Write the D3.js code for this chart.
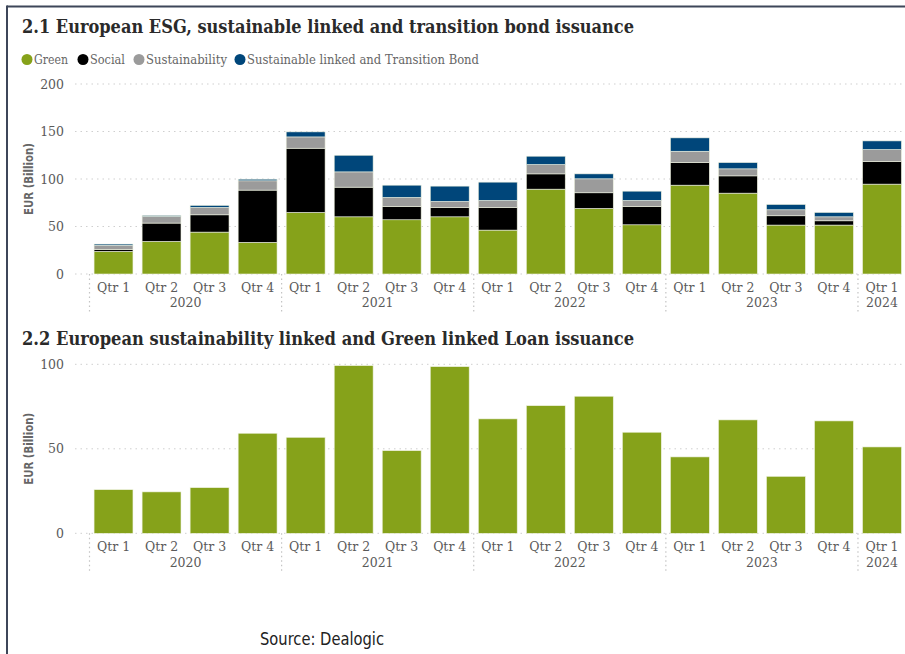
<!DOCTYPE html>
<html>
<head>
<meta charset="utf-8">
<script src="https://cdn.jsdelivr.net/npm/d3@7"></script>
<style>
  html, body { margin: 0; padding: 0; background: #fff; }
  svg { display: block; }
</style>
</head>
<body>
<svg id="chart" width="905" height="654"></svg>
<script>
// Quarterly categories and year groups
const quarters = ["Qtr 1","Qtr 2","Qtr 3","Qtr 4","Qtr 1","Qtr 2","Qtr 3","Qtr 4","Qtr 1","Qtr 2","Qtr 3","Qtr 4","Qtr 1","Qtr 2","Qtr 3","Qtr 4","Qtr 1"];
const years = ["2020","2021","2022","2023","2024"];
const quartersPerYear = [4, 4, 4, 4, 1];

// 2.1 Bond issuance by type (EUR billion)
const seriesNames = ["Green", "Social", "Sustainability", "Sustainable linked and Transition Bond"];
const green          = [23.8, 34.3, 44.1, 33.3, 64.8, 60.2, 57.1, 60.2, 46.2, 89.3, 69.0, 51.8, 93.5, 85.1, 51.5, 51.5, 94.6];
const social         = [2.1, 19.3, 18.2, 55.0, 67.6, 31.2, 14.0, 9.9, 23.9, 16.1, 16.5, 19.3, 23.8, 18.2, 9.8, 4.5, 23.8];
const sustainability = [4.2, 7.0, 7.8, 9.8, 11.9, 16.1, 9.5, 6.3, 7.3, 9.8, 14.7, 6.3, 11.9, 7.4, 6.3, 4.2, 12.6];
const linkedTransition = [1.4, 1.0, 2.1, 1.7, 5.3, 17.5, 12.9, 16.1, 19.3, 8.8, 5.2, 9.8, 14.1, 6.6, 5.6, 4.6, 9.1];
const bondTicks = [0, 50, 100, 150, 200];

// 2.2 Sustainability linked and green linked loan issuance (EUR billion)
const loans = [25.8, 24.5, 27.0, 59.2, 56.8, 99.2, 48.9, 98.6, 67.7, 75.5, 81.1, 59.8, 45.2, 67.1, 33.7, 66.5, 51.1];
const loanTicks = [0, 50, 100];

const colors = ["#86a21a", "#000000", "#9b9b9b", "#00467a"];

const svg = d3.select("#chart");
const serif = "'DejaVu Serif', serif";
const condensed = "'DejaVu Sans Condensed', 'DejaVu Sans', sans-serif";
const tickColor = "#5a5a5a";

// Frame lines
svg.append("line").attr("x1", 7).attr("x2", 905).attr("y1", 6.5).attr("y2", 6.5)
  .attr("stroke", "#3d4659").attr("stroke-width", 2);
svg.append("line").attr("x1", 7).attr("x2", 7).attr("y1", 5.5).attr("y2", 654)
  .attr("stroke", "#3d4659").attr("stroke-width", 2);

const idx = d3.range(quarters.length);
const x = d3.scaleBand().domain(idx).range([89.5, 906]).paddingInner(0.19).paddingOuter(0.095);

function panel(opts) {
  const g = svg.append("g");
  const y = d3.scaleLinear().domain([0, opts.max]).range([opts.y0, opts.y1]);

  // title
  g.append("text").attr("x", 22).attr("y", opts.titleY)
    .attr("font-family", serif).attr("font-weight", "bold").attr("font-size", 18.5)
    .attr("fill", "#2a2a2a").attr("textLength", opts.titleLen).attr("lengthAdjust", "spacingAndGlyphs")
    .text(opts.title);

  // gridlines + y ticks
  const yAxis = d3.axisLeft(y).tickValues(opts.ticks).tickSize(0).tickPadding(0);
  const ya = g.append("g").attr("transform", "translate(64,0)").call(yAxis);
  ya.select(".domain").remove();
  ya.selectAll("text").attr("font-family", serif).attr("font-size", 12.5).attr("fill", tickColor).attr("dx", 0);
  g.append("g").selectAll("line").data(opts.ticks).join("line")
    .attr("x1", 75).attr("x2", 905).attr("y1", d => y(d)).attr("y2", d => y(d))
    .attr("stroke", "#cfcfcf").attr("stroke-width", 1).attr("stroke-dasharray", "1.5,4");

  // y label
  g.append("text").attr("transform", `translate(33,${(opts.y0 + opts.y1) / 2}) rotate(-90)`)
    .attr("text-anchor", "middle").attr("font-family", condensed).attr("font-weight", "bold")
    .attr("font-size", 12.5).attr("fill", "#666")
    .attr("textLength", 72).attr("lengthAdjust", "spacingAndGlyphs").text("EUR (Billion)");

  // bars
  opts.drawBars(g, y);

  // quarter labels
  const xAxis = d3.axisBottom(x).tickFormat(i => quarters[i]).tickSize(0).tickPadding(0);
  const xa = g.append("g").attr("transform", `translate(0,${opts.qY})`).call(xAxis);
  xa.select(".domain").remove();
  xa.selectAll("text").attr("dy", 0).attr("font-family", serif).attr("font-size", 12.5).attr("fill", tickColor);

  // year groups with separators
  const half = x.step() * x.paddingInner() / 2;
  let start = 0;
  const groups = years.map((yr, k) => {
    const s = start; start += quartersPerYear[k];
    return { yr, s, e: start - 1 };
  });
  g.append("g").selectAll("line").data(groups).join("line")
    .attr("x1", d => x(d.s) - half).attr("x2", d => x(d.s) - half)
    .attr("y1", opts.y0).attr("y2", opts.sepEnd)
    .attr("stroke", "#c4c4c4").attr("stroke-width", 1.2).attr("stroke-dasharray", "1.5,3");
  g.append("g").selectAll("text").data(groups).join("text")
    .attr("x", d => (x(d.s) + x(d.e) + x.bandwidth()) / 2).attr("y", opts.yearY)
    .attr("text-anchor", "middle").attr("font-family", serif).attr("font-size", 12.5).attr("fill", tickColor)
    .text(d => d.yr);
}

// 2.1 stacked bond chart
panel({
  title: "2.1 European ESG, sustainable linked and transition bond issuance",
  titleY: 33, titleLen: 612,
  max: 200, y0: 274, y1: 84, ticks: bondTicks,
  qY: 292, yearY: 307, sepEnd: 312,
  drawBars(g, y) {
    const rows = idx.map(i => ({ i, s0: green[i], s1: social[i], s2: sustainability[i], s3: linkedTransition[i] }));
    const stack = d3.stack().keys(["s0", "s1", "s2", "s3"])(rows);
    g.append("g").selectAll("g").data(stack).join("g").attr("fill", (d, k) => colors[k])
      .selectAll("rect").data(d => d).join("rect")
      .attr("x", d => x(d.data.i)).attr("width", x.bandwidth())
      .attr("y", d => y(d[1])).attr("height", d => y(d[0]) - y(d[1]))
      .attr("stroke", "#eef2e0").attr("stroke-width", 0.6);
  }
});

// legend
const legend = svg.append("g");
const legendX = [27, 83, 139, 240];
const legendW = [34, 35, 81, 232];
seriesNames.forEach((name, k) => {
  legend.append("circle").attr("cx", legendX[k]).attr("cy", 59.5).attr("r", 5.5).attr("fill", colors[k]);
  legend.append("text").attr("x", legendX[k] + 7).attr("y", 64)
    .attr("font-family", serif).attr("font-size", 12.5).attr("fill", "#666")
    .attr("textLength", legendW[k]).attr("lengthAdjust", "spacingAndGlyphs").text(name);
});

// 2.2 loan chart
panel({
  title: "2.2 European sustainability linked and Green linked Loan issuance",
  titleY: 345, titleLen: 612,
  max: 100, y0: 533.3, y1: 364.3, ticks: loanTicks,
  qY: 551, yearY: 567, sepEnd: 572,
  drawBars(g, y) {
    g.append("g").selectAll("rect").data(idx).join("rect")
      .attr("x", i => x(i)).attr("width", x.bandwidth())
      .attr("y", i => y(loans[i])).attr("height", i => y(0) - y(loans[i]))
      .attr("fill", colors[0]).attr("stroke", "#eef2e0").attr("stroke-width", 0.6);
  }
});

// source note
svg.append("text").attr("x", 260).attr("y", 645)
  .attr("font-family", condensed).attr("font-size", 17).attr("fill", "#222")
  .attr("textLength", 124).attr("lengthAdjust", "spacingAndGlyphs").text("Source: Dealogic");
</script>
</body>
</html>
